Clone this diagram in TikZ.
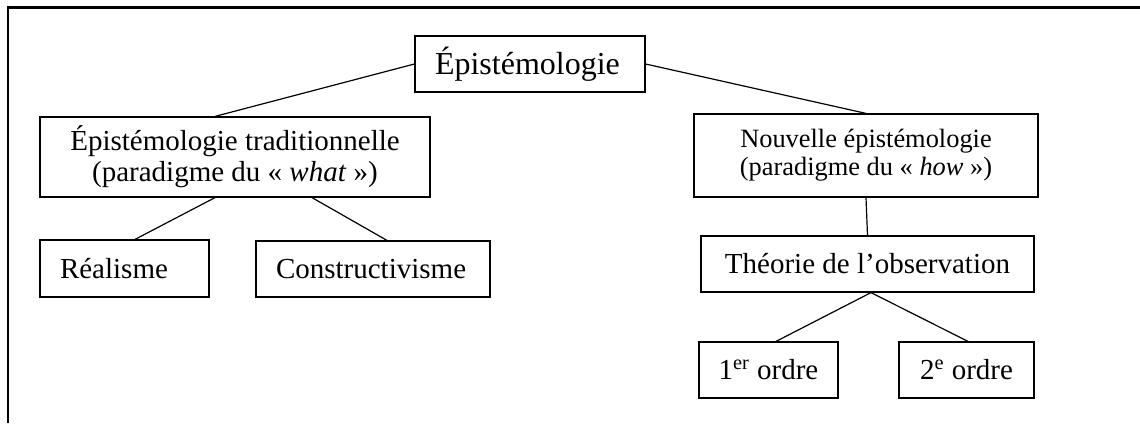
\documentclass[tikz,border=0pt]{standalone}
\usepackage{fontspec}
\setmainfont{Liberation Serif}
\usetikzlibrary{calc}
\tikzset{ % Setup for the boxes
frame/.style={line width=1.3pt},
box/.style={draw, line width=0.6pt, inner ysep=0pt, minimum height=28pt, align=center},
padbox/.style={box, inner xsep=10pt, align=left},
link/.style={line width=0.6pt},
}

\begin{document}
\begin{tikzpicture}[x=0.5pt, y=-0.5pt]
            \useasboundingbox (0,0) rectangle (1140,423);
            \draw [frame] (8,423) -- (8,7.5) -- (1140,7.5);
            \node [padbox, text width=95pt, font=\fontsize{16}{19}\selectfont] (root) at (530,64) {Épistémologie};
            \node [box, minimum width=195pt, minimum height=40pt, font=\fontsize{14.5}{15.5}\selectfont] (trad) at (235,157)
                {Épistémologie traditionnelle\\(paradigme du « \textit{what} »)};
            \node [box, minimum width=172pt, minimum height=41.5pt, font=\fontsize{13.2}{14}\selectfont] (nouv) at (866,155.5)
                {Nouvelle épistémologie\\(paradigme du « \textit{how} »)};
            \node [padbox, text width=64.5pt, minimum height=28.5pt, font=\fontsize{14.5}{17}\selectfont] (real) at (124.5,268.5) {Réalisme};
            \node [padbox, text width=97pt, font=\fontsize{14.5}{17}\selectfont] (cons) at (373,269) {Constructivisme};
            \node [box, minimum width=166.5pt, font=\fontsize{14.5}{17}\selectfont] (theo) at (867.5,264) {Théorie de l’observation};
            \node [box, minimum width=69.5pt, font=\fontsize{14.5}{17}\selectfont] (ordre1) at (768.5,370) {1\textsuperscript{er} ordre};
            \node [box, minimum width=67.5pt, font=\fontsize{14.5}{17}\selectfont] (ordre2) at (966.5,370) {2\textsuperscript{e} ordre};
            \draw [link] (root.west) -- ($(trad.north)+(-20,0)$);
            \draw [link] (root.east) -- (nouv.north);
            \draw [link] ($(trad.south)+(-20,0)$) -- ($(real.north)+(10.5,0)$);
            \draw [link] ($(trad.south)+(77,0)$) -- ($(cons.north)+(14,0)$);
            \draw [link] (nouv.south) -- (theo.north);
            \draw [link] ($(theo.south)+(3.5,0)$) -- ($(ordre1.north)+(7.5,0)$);
            \draw [link] ($(theo.south)+(3.5,0)$) -- ($(ordre2.north)+(1.5,0)$);
        \end{tikzpicture}
\end{document}
